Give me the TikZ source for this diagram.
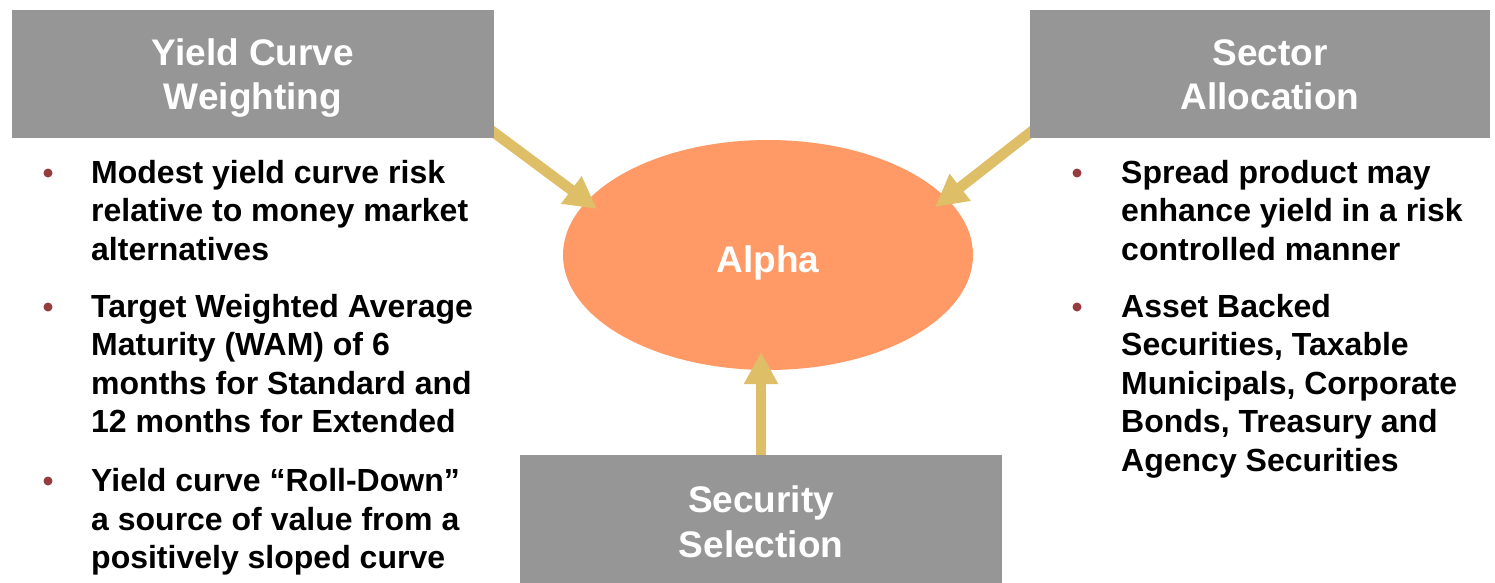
\documentclass[tikz,border=0pt]{standalone}
\usepackage{fontspec}
\setmainfont{Liberation Sans}
\usetikzlibrary{arrows.meta,shapes.geometric}
\definecolor{boxgray}{RGB}{150,150,150}
\definecolor{alphaorange}{RGB}{255,153,102}
\definecolor{arrowtan}{RGB}{222,190,102}
\definecolor{bulletred}{RGB}{150,60,60}
\tikzset{
  box/.style={fill=boxgray, draw=none, inner sep=0pt, minimum width=482pt, minimum height=128pt},
  title/.style={text=white, font=\bfseries\fontsize{37}{44}\selectfont, anchor=base, inner sep=0pt},
  bodytext/.style={text=black, font=\bfseries\fontsize{32}{38.5}\selectfont, align=left, anchor=north west, inner sep=0pt},
  bul/.style={circle, fill=bulletred, draw=none, minimum size=9pt, inner sep=0pt},
  arr/.style={draw=arrowtan, line width=10.5pt, -{Triangle[width=32pt,length=32pt]}},
}
\begin{document}
\begin{tikzpicture}[x=1pt,y=-1pt]
\useasboundingbox (0,0) rectangle (1495,582);
% ellipse
\node[ellipse, fill=alphaorange, draw=none, minimum width=410pt, minimum height=230pt, inner sep=0pt] (alpha) at (768,255) {};
\node[text=white, font=\bfseries\fontsize{37}{44}\selectfont, anchor=base, inner sep=0pt] (alphatxt) at (768,272) {Alpha};
% arrow end points
\coordinate (a1s) at (488,128);
\coordinate (a1e) at (597,209);
\coordinate (a2s) at (1036,128);
\coordinate (a2e) at (935,207);
\coordinate (a3s) at (761,460);
\coordinate (a3e) at (761,352);
\draw[arr] (a1s) -- (a1e);
\draw[arr] (a2s) -- (a2e);
\draw[arr] (a3s) -- (a3e);
% boxes
\node[box] (ycw) at (253,74) {};
\node[box, minimum width=460pt] (sa) at (1260,74) {};
\node[box, minimum height=140pt] (ss) at (761,525) {};
\node[title] (ycw1) at (253,65.5) {Yield Curve};
\node[title] (ycw2) at (253,109.5) {Weighting};
\node[title] (sa1) at (1270,65.5) {Sector};
\node[title] (sa2) at (1270,109.5) {Allocation};
\node[title] (ss1) at (761,512) {Security};
\node[title] (ss2) at (761,557.5) {Selection};
% left bullets
\node[bul] (lb1) at (48,173) {};
\node[bul] (lb2) at (48,307) {};
\node[bul] (lb3) at (48,481) {};
\node[bodytext] (lt1) at (91,160.1) {Modest yield curve risk\\relative to money market\\alternatives};
\node[bodytext] (lt2) at (91,294.1) {Target Weighted Average\\Maturity (WAM) of 6\\months for Standard and\\12 months for Extended};
\node[bodytext] (lt3) at (91,468.1) {Yield curve “Roll-Down”\\a source of value from a\\positively sloped curve};
% right bullets
\node[bul] (rb1) at (1077,173) {};
\node[bul] (rb2) at (1077,307) {};
\node[bodytext] (rt1) at (1121,160.1) {Spread product may\\enhance yield in a risk\\controlled manner};
\node[bodytext] (rt2) at (1121,294.1) {Asset Backed\\Securities, Taxable\\Municipals, Corporate\\Bonds, Treasury and\\Agency Securities};
\end{tikzpicture}
\end{document}
